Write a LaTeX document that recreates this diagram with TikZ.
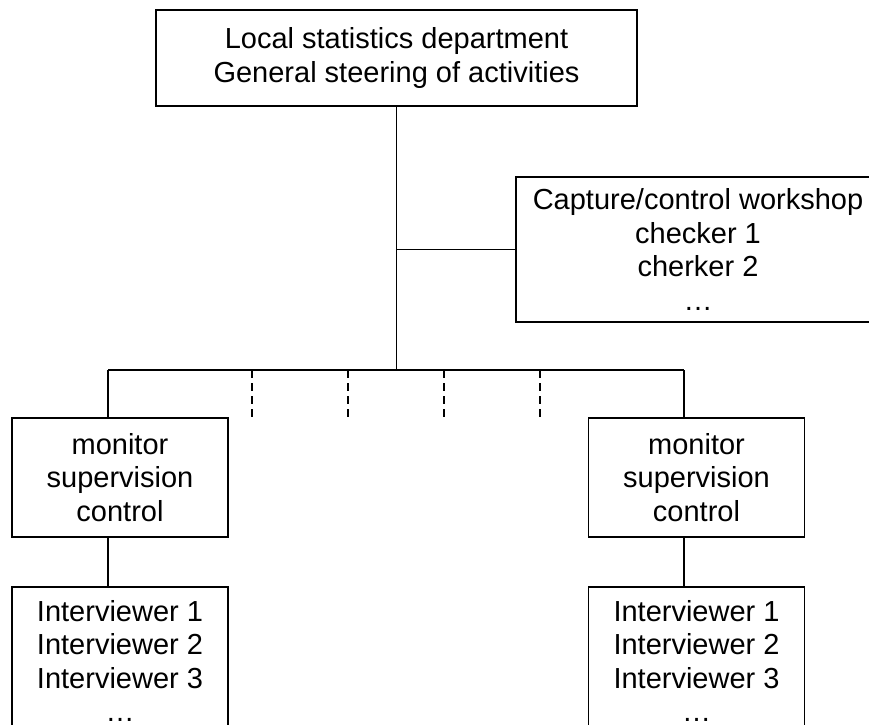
\documentclass[tikz,border=0pt]{standalone}
\usepackage{fontspec}
\setmainfont{Liberation Sans}
\begin{document}
\begin{tikzpicture}[x=1pt,y=-1pt,
  box/.style={draw,line width=1.3pt,align=center,inner sep=0pt},
  link/.style={line width=1.1pt}]
 \useasboundingbox (0,0) rectangle (869,724);
 \clip (0,0) rectangle (869,724);
 \fontsize{29}{33.5}\selectfont
 %
 \node[box,minimum width=481,minimum height=96] (head) at (396.5,58)
   {Local statistics department\\General steering of activities};
 \node[box,minimum width=364,minimum height=145] (capture) at (698,249.5)
   {Capture/control workshop\\checker 1\\cherker 2\\…};
 %
 \node[box,minimum width=216,minimum height=119] (monl) at (120,477.5)
   {monitor\\supervision\\control};
 \node[box,minimum width=216,minimum height=119] (monr) at (696.5,477.5)
   {monitor\\supervision\\control};
 \node[box,minimum width=216,minimum height=148] (intl) at (120,661)
   {Interviewer 1\\Interviewer 2\\Interviewer 3\\…};
 \node[box,minimum width=216,minimum height=148] (intr) at (696.5,661)
   {Interviewer 1\\Interviewer 2\\Interviewer 3\\…};
 %
 \coordinate (hub) at (396.5,370);
 \coordinate (lbr) at (108,370);
 \coordinate (rbr) at (684,370);
 %
 \draw[link] (head.south) -- (hub);
 \draw[link] (head.south |- capture.west) -- (capture.west);
 \draw[link] (lbr) -- (rbr);
 \draw[link] (lbr) -- (lbr |- monl.north);
 \draw[link] (rbr) -- (rbr |- monr.north);
 \draw[link] (lbr |- monl.south) -- (lbr |- intl.north);
 \draw[link] (rbr |- monr.south) -- (rbr |- intr.north);
 %
 \foreach \x in {252,348,444,540}
   \draw[link,dash pattern=on 8pt off 5pt] (\x,370) -- (\x,418);
\end{tikzpicture}
\end{document}
